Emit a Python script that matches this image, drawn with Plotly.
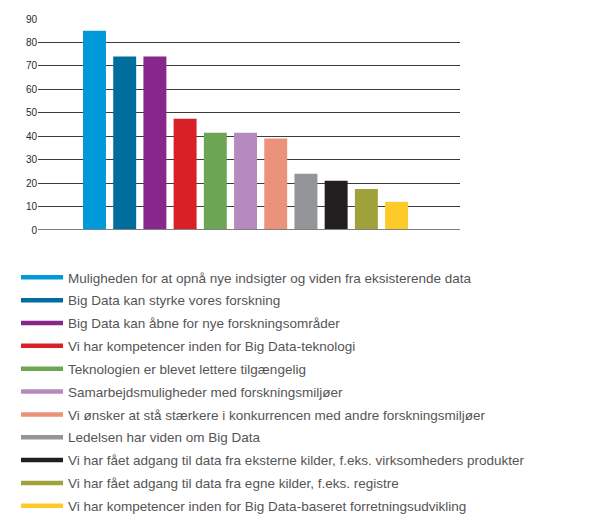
import plotly.graph_objects as go

labels = [
    "Muligheden for at opnå nye indsigter og viden fra eksisterende data",
    "Big Data kan styrke vores forskning",
    "Big Data kan åbne for nye forskningsområder",
    "Vi har kompetencer inden for Big Data-teknologi",
    "Teknologien er blevet lettere tilgængelig",
    "Samarbejdsmuligheder med forskningsmiljøer",
    "Vi ønsker at stå stærkere i konkurrencen med andre forskningsmiljøer",
    "Ledelsen har viden om Big Data",
    "Vi har fået adgang til data fra eksterne kilder, f.eks. virksomheders produkter",
    "Vi har fået adgang til data fra egne kilder, f.eks. registre",
    "Vi har kompetencer inden for Big Data-baseret forretningsudvikling",
]
values = [85, 74, 74, 47.5, 41.5, 41.5, 39, 24, 21, 17.5, 12]
colors = ["#009ADA", "#006D9E", "#87278B", "#D92027", "#6CA654", "#B78ABF",
          "#EA937A", "#939598", "#231F20", "#A0A13A", "#FCCB2A"]
y_ticks = [0, 10, 20, 30, 40, 50, 60, 70, 80, 90]

positions = list(range(len(values)))

fig = go.Figure()
fig.add_trace(go.Bar(x=positions, y=values, marker=dict(color=colors, line=dict(width=0)),
                     width=0.76, showlegend=False, hoverinfo="y"))
for i, (lab, col) in enumerate(zip(labels, colors)):
    fig.add_trace(go.Scatter(x=[positions[0]], y=[0], mode="lines", name=lab,
                             line=dict(color=col, width=4.5), legendgroup=f"g{i}",
                             hoverinfo="skip"))

fig.update_layout(
    width=601, height=518,
    margin=dict(l=30, r=149, t=11, b=296, autoexpand=False),
    paper_bgcolor="white", plot_bgcolor="white",
    font=dict(family="Liberation Sans, Arial, sans-serif", color="#555555"),
    xaxis=dict(range=[-1.87, 12.1], showticklabels=False, showgrid=False,
               zeroline=False, showline=False, fixedrange=True),
    yaxis=dict(range=[0, 90], tickvals=y_ticks, showgrid=True, gridcolor="#3c3c3c",
               gridwidth=1.3, zeroline=False, showline=False,
               tickfont=dict(size=10, color="#2a2a2a"), ticks=""),
    legend=dict(x=-22 / 422, y=-32 / 211, maxheight=1,
                xanchor="left", yanchor="top", traceorder="grouped", tracegroupgap=2.3,
                itemwidth=42, font=dict(size=13.5, color="#555555"),
                bgcolor="rgba(0,0,0,0)"),
    shapes=[dict(type="line", xref="paper", yref="y", x0=0, x1=1, y0=0, y1=0,
                 line=dict(color="#808080", width=2))],
)

fig.write_html("out.html")
